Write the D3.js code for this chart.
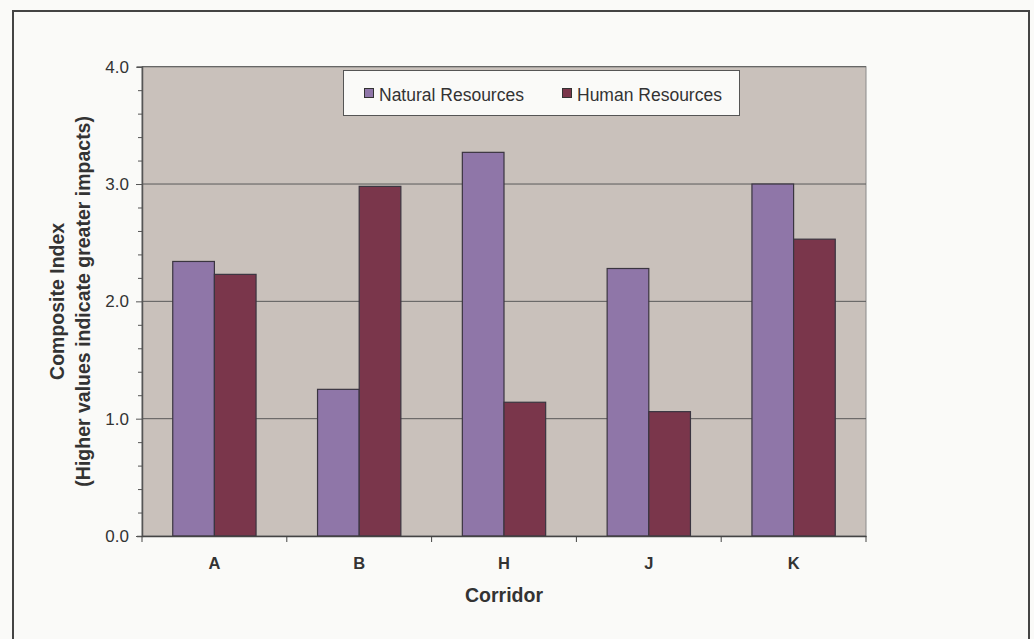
<!DOCTYPE html>
<html>
<head>
<meta charset="utf-8">
<script src="https://cdn.jsdelivr.net/npm/d3@7"></script>
<style>
html,body{margin:0;padding:0;background:#fff;}
svg{display:block;}
text{font-family:"Liberation Sans", Arial, sans-serif;}
</style>
</head>
<body>
<div id="chart"></div>
<script>
const categories = ["A", "B", "H", "J", "K"];
const seriesNames = ["Natural Resources", "Human Resources"];
const naturalResources = [2.34, 1.25, 3.27, 2.28, 3.00];
const humanResources = [2.23, 2.98, 1.14, 1.06, 2.53];
const yTicks = [0, 1, 2, 3, 4];
const colors = ["#8F76A8", "#7A364B"];

const W = 1034, H = 639;
const m = {left: 142, top: 66.7, right: 1034 - 866, bottom: 639 - 536};
const svg = d3.select("#chart").append("svg").attr("width", W).attr("height", H);

svg.append("rect").attr("x", 0).attr("y", 0).attr("width", W).attr("height", H).attr("fill", "#FAFAF8");
svg.append("rect").attr("x", 13).attr("y", 11).attr("width", 1016).attr("height", 640)
  .attr("fill", "none").attr("stroke", "#444").attr("stroke-width", 2);

const pw = W - m.left - m.right, ph = H - m.top - m.bottom;
const g = svg.append("g").attr("transform", `translate(${m.left},${m.top})`);

const x0 = d3.scaleBand().domain(categories).range([0, pw]).padding(0);
const barW = x0.bandwidth() * 0.2877;
const x1 = d3.scaleBand().domain(seriesNames).range([0, 2 * barW]).padding(0);
const y = d3.scaleLinear().domain([0, 4]).range([ph, 0]);

g.append("rect").attr("width", pw).attr("height", ph).attr("fill", "#C9C1BB")
  .attr("stroke", "#8a8a8a").attr("stroke-width", 1);

// gridlines
g.selectAll("line.grid").data(yTicks.slice(1)).enter().append("line")
  .attr("x1", 0).attr("x2", pw).attr("y1", d => y(d)).attr("y2", d => y(d))
  .attr("stroke", "#5a5a5a").attr("stroke-width", 1);

const data = categories.map((c, i) => ({cat: c, vals: [naturalResources[i], humanResources[i]]}));
const groups = g.selectAll("g.grp").data(data).enter().append("g")
  .attr("transform", d => `translate(${x0(d.cat) + x0.bandwidth() / 2 - barW},0)`);
groups.selectAll("rect").data(d => d.vals.map((v, j) => ({name: seriesNames[j], v, j}))).enter().append("rect")
  .attr("x", d => x1(d.name)).attr("width", x1.bandwidth())
  .attr("y", d => y(d.v)).attr("height", d => ph - y(d.v))
  .attr("fill", d => colors[d.j]).attr("stroke", "#3a3540").attr("stroke-width", 1.2);

// y axis
const yAxis = d3.axisLeft(y).tickValues(d3.range(0, 4.01, 0.2)).tickSize(5)
  .tickFormat(d => (Math.abs(d - Math.round(d)) < 1e-6) ? d3.format(".1f")(d) : "");
const ya = g.append("g").call(yAxis);
ya.select(".domain").attr("stroke", "#555").attr("stroke-width", 1.5);
ya.selectAll(".tick line").attr("stroke", "#555").attr("x2", d => (Math.abs(d - Math.round(d)) < 1e-6) ? -6 : -4).attr("x1", 0);
ya.selectAll(".tick text").attr("font-size", 17).attr("fill", "#333").attr("x", -13)
  .attr("font-family", "Liberation Sans, Arial, sans-serif");

// x axis
const xa = g.append("g").attr("transform", `translate(0,${ph})`)
  .call(d3.axisBottom(x0).tickSize(0).tickPadding(0));
xa.select(".domain").attr("stroke", "#444").attr("stroke-width", 1.5);
xa.selectAll(".tick text").attr("font-size", 16.5).attr("font-weight", "bold").attr("fill", "#333")
  .attr("dy", null).attr("y", 32.5)
  .attr("font-family", "Liberation Sans, Arial, sans-serif");
xa.selectAll("line.sep").data(d3.range(categories.length + 1)).enter().append("line")
  .attr("x1", i => i * x0.bandwidth()).attr("x2", i => i * x0.bandwidth())
  .attr("y1", 0).attr("y2", 6).attr("stroke", "#444");

// axis titles
svg.append("text").attr("x", m.left + pw / 2).attr("y", 602).attr("text-anchor", "middle")
  .attr("font-size", 19.5).attr("font-weight", "bold").attr("fill", "#333").text("Corridor");
const yt = svg.append("text").attr("transform", `translate(0,${m.top + ph / 2}) rotate(-90)`)
  .attr("text-anchor", "middle").attr("font-size", 19.5).attr("font-weight", "bold").attr("fill", "#333");
yt.append("tspan").attr("x", 0).attr("y", 64).text("Composite Index");
yt.append("tspan").attr("x", 0).attr("y", 90).text("(Higher values indicate greater impacts)");

// legend
const lg = svg.append("g");
lg.append("rect").attr("x", 343.5).attr("y", 70.5).attr("width", 396).attr("height", 45)
  .attr("fill", "#FAFAF8").attr("stroke", "#555").attr("stroke-width", 1);
const legX = [364.5, 562.5];
seriesNames.forEach((n, i) => {
  lg.append("rect").attr("x", legX[i]).attr("y", 88.5).attr("width", 9).attr("height", 9)
    .attr("fill", colors[i]).attr("stroke", "#333").attr("stroke-width", 1);
  lg.append("text").attr("x", legX[i] + 14.5).attr("y", 100.5).attr("font-size", 17.5).attr("fill", "#333").text(n);
});
</script>
</body>
</html>
